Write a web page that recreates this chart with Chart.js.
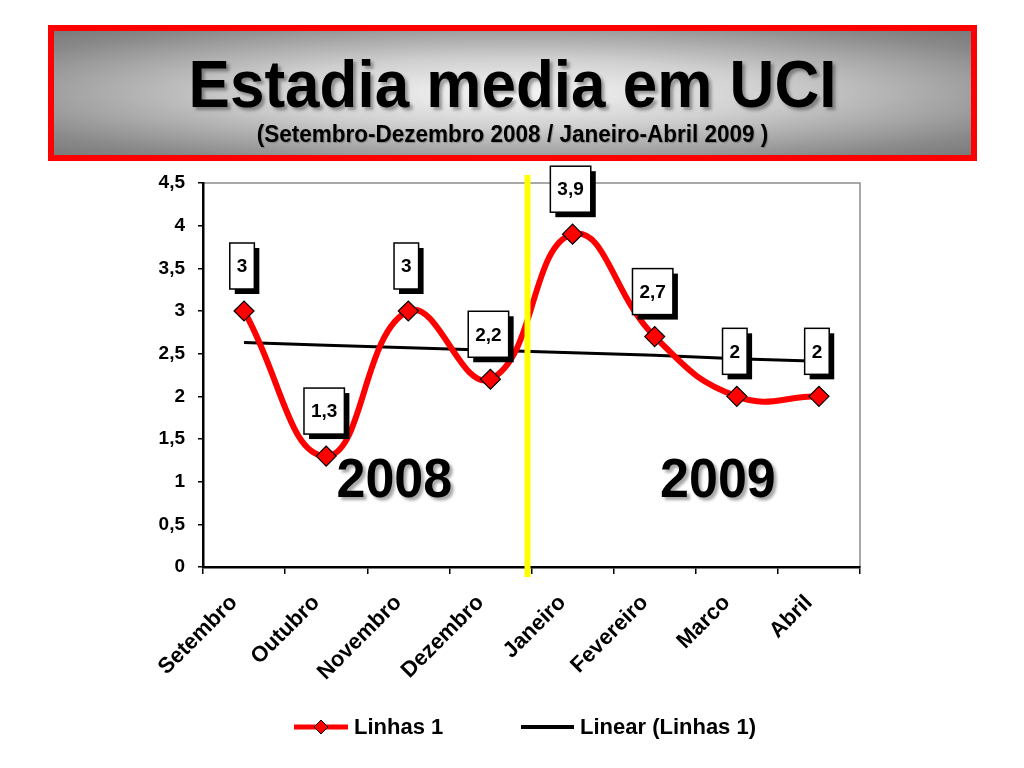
<!DOCTYPE html>
<html>
<head>
<meta charset="utf-8">
<title>Estadia media em UCI</title>
<script src="https://cdn.jsdelivr.net/npm/chart.js@4.4.1/dist/chart.umd.min.js"></script>
<style>
  html, body { margin: 0; padding: 0; background: #fff; }
  body { width: 1024px; height: 768px; position: relative; overflow: hidden; font-family: "Liberation Sans", Arial, sans-serif; }
  #grafico { position: absolute; left: 0; top: 0; }
  #cabecalho {
    position: absolute; left: 48px; top: 25px; width: 929px; height: 136px;
    box-sizing: border-box; border: 6px solid #ff0000;
    background: radial-gradient(ellipse at center, #f6f6f6 0%, #cfcfcf 40%, #8a8a8a 85%, #7a7a7a 100%);
    text-align: center; z-index: 2;
  }
  #titulo {
    position: absolute; left: 0; right: 0; top: 18px;
    font-weight: bold; font-size: 62px; line-height: 70px; color: #000;
    transform: scale(1, 1.08);
    text-shadow: 3px 3px 3px rgba(0,0,0,0.35);
  }
  #subtitulo {
    position: absolute; left: 0; right: 0; top: 91px;
    font-weight: bold; font-size: 22.5px; line-height: 26px; color: #000;
    transform: scale(1, 1.05);
    text-shadow: 1px 1px 1px rgba(0,0,0,0.25);
  }
</style>
</head>
<body>
<div id="cabecalho">
  <div id="titulo">Estadia media em UCI</div>
  <div id="subtitulo">(Setembro-Dezembro 2008 / Janeiro-Abril 2009 )</div>
</div>
<canvas id="grafico" width="1024" height="768"></canvas>
<script>
// dados
const meses = ['Setembro', 'Outubro', 'Novembro', 'Dezembro', 'Janeiro', 'Fevereiro', 'Marco', 'Abril'];
const estadia = [3, 1.3, 3, 2.2, 3.9, 2.7, 2, 2];
const tendencia = [2.63, 2.6, 2.57, 2.54, 2.51, 2.48, 2.44, 2.41];
const anos = ['2008', '2009'];
const legendas = ['Linhas 1', 'Linear (Linhas 1)'];

const fonte = '"Liberation Sans", Arial, sans-serif';

function virgula(v){
  return String(v).replace('.', ',');
}

// moldura cinzenta da area do grafico
const moldura = {
  id: 'moldura',
  beforeDraw(chart){
    const a = chart.chartArea;
    const ctx = chart.ctx;
    ctx.save();
    ctx.strokeStyle = '#8c8c8c';
    ctx.lineWidth = 1.5;
    ctx.strokeRect(a.left, a.top, a.right - a.left, a.bottom - a.top);
    ctx.restore();
  }
};

// linha amarela, anos, etiquetas e legenda
const extras = {
  id: 'extras',
  afterDatasetsDraw(chart){
    const ctx = chart.ctx;
    const x = chart.scales.x;
    const y = chart.scales.y;
    const a = chart.chartArea;

    // separador entre 2008 e 2009
    const xs = (x.getPixelForValue(3) + x.getPixelForValue(4)) / 2 - 4;
    ctx.save();
    ctx.strokeStyle = '#ffff00';
    ctx.lineWidth = 6;
    ctx.beginPath();
    ctx.moveTo(xs, a.top - 8);
    ctx.lineTo(xs, a.bottom + 10);
    ctx.stroke();
    ctx.restore();

    // anos
    ctx.save();
    ctx.font = 'bold 52px ' + fonte;
    ctx.textAlign = 'center';
    ctx.textBaseline = 'alphabetic';
    ctx.fillStyle = '#000';
    ctx.shadowColor = 'rgba(0,0,0,0.35)';
    ctx.shadowOffsetX = 3;
    ctx.shadowOffsetY = 3;
    ctx.shadowBlur = 3;
    [[1.83, anos[0]], [5.77, anos[1]]].forEach(([pos, txt]) => {
      ctx.save();
      ctx.translate(x.getPixelForValue(pos), y.getPixelForValue(0.82));
      ctx.scale(1, 1.08);
      ctx.fillText(txt, 0, 0);
      ctx.restore();
    });
    ctx.restore();

    // etiquetas de valores
    const meta = chart.getDatasetMeta(0);
    ctx.save();
    ctx.font = 'bold 19px ' + fonte;
    ctx.textAlign = 'center';
    ctx.textBaseline = 'middle';
    meta.data.forEach((p, i) => {
      const txt = virgula(estadia[i]);
      const w = ctx.measureText(txt).width + 14;
      const h = 46;
      const cx = p.x - 2;
      const cy = p.y - 45;
      ctx.fillStyle = '#000';
      ctx.fillRect(cx - w / 2 + 5, cy - h / 2 + 5, w, h);
      ctx.fillStyle = '#fff';
      ctx.fillRect(cx - w / 2, cy - h / 2, w, h);
      ctx.strokeStyle = '#000';
      ctx.lineWidth = 1.5;
      ctx.strokeRect(cx - w / 2, cy - h / 2, w, h);
      ctx.fillStyle = '#000';
      ctx.fillText(txt, cx, cy + 1);
    });
    ctx.restore();
  },
  afterDraw(chart){
    const ctx = chart.ctx;
    ctx.save();
    // legenda
    const ly = 727;
    ctx.lineCap = 'butt';
    ctx.strokeStyle = '#ff0000';
    ctx.lineWidth = 5;
    ctx.beginPath();
    ctx.moveTo(294, ly);
    ctx.lineTo(348, ly);
    ctx.stroke();
    ctx.fillStyle = '#ff0000';
    ctx.strokeStyle = '#000';
    ctx.lineWidth = 1;
    ctx.beginPath();
    ctx.moveTo(321, ly - 7);
    ctx.lineTo(328, ly);
    ctx.lineTo(321, ly + 7);
    ctx.lineTo(314, ly);
    ctx.closePath();
    ctx.fill();
    ctx.stroke();

    ctx.strokeStyle = '#000';
    ctx.lineWidth = 4;
    ctx.beginPath();
    ctx.moveTo(521, ly);
    ctx.lineTo(574, ly);
    ctx.stroke();

    ctx.font = 'bold 22px ' + fonte;
    ctx.fillStyle = '#000';
    ctx.textAlign = 'left';
    ctx.textBaseline = 'middle';
    ctx.fillText(legendas[0], 354, ly + 1);
    ctx.fillText(legendas[1], 580, ly + 1);
    ctx.restore();
  }
};

let ctx = document.getElementById('grafico').getContext('2d');

let grafico = new Chart(ctx, {
  type: 'line',
  data: {
    labels: meses,
    datasets: [
      {
        label: legendas[0],
        data: estadia,
        borderColor: '#ff0000',
        borderWidth: 6,
        tension: 0.45,
        pointStyle: 'rectRot',
        pointRadius: 10,
        pointBackgroundColor: '#ff0000',
        pointBorderColor: '#000',
        pointBorderWidth: 1.2,
        fill: false
      },
      {
        label: legendas[1],
        data: tendencia,
        borderColor: '#000',
        borderWidth: 3,
        tension: 0,
        pointRadius: 0,
        fill: false
      }
    ]
  },
  options: {
    responsive: false,
    animation: false,
    layout: {
      padding: { left: 153, right: 164, top: 183, bottom: 0 }
    },
    plugins: {
      legend: { display: false },
      tooltip: { enabled: false }
    },
    scales: {
      x: {
        offset: true,
        grid: {
          display: true,
          drawOnChartArea: false,
          drawTicks: true,
          tickLength: 7,
          offset: true,
          color: '#000',
          lineWidth: 1.5
        },
        border: { color: '#000', width: 2.5 },
        ticks: {
          minRotation: 45,
          maxRotation: 45,
          color: '#000',
          padding: 16,
          labelOffset: -10,
          font: { family: fonte, size: 22, weight: 'bold' }
        },
        afterFit(scale){ scale.height = 201; }
      },
      y: {
        min: 0,
        max: 4.5,
        grid: {
          display: true,
          drawOnChartArea: false,
          drawTicks: true,
          tickLength: 5,
          color: '#000',
          lineWidth: 1.5
        },
        border: { color: '#000', width: 2.5 },
        ticks: {
          stepSize: 0.5,
          color: '#000',
          padding: 13,
          font: { family: fonte, size: 19, weight: 'bold' },
          callback: (v) => virgula(v)
        },
        afterFit(scale){ scale.width = 50; }
      }
    }
  },
  plugins: [moldura, extras]
});
</script>
</body>
</html>
